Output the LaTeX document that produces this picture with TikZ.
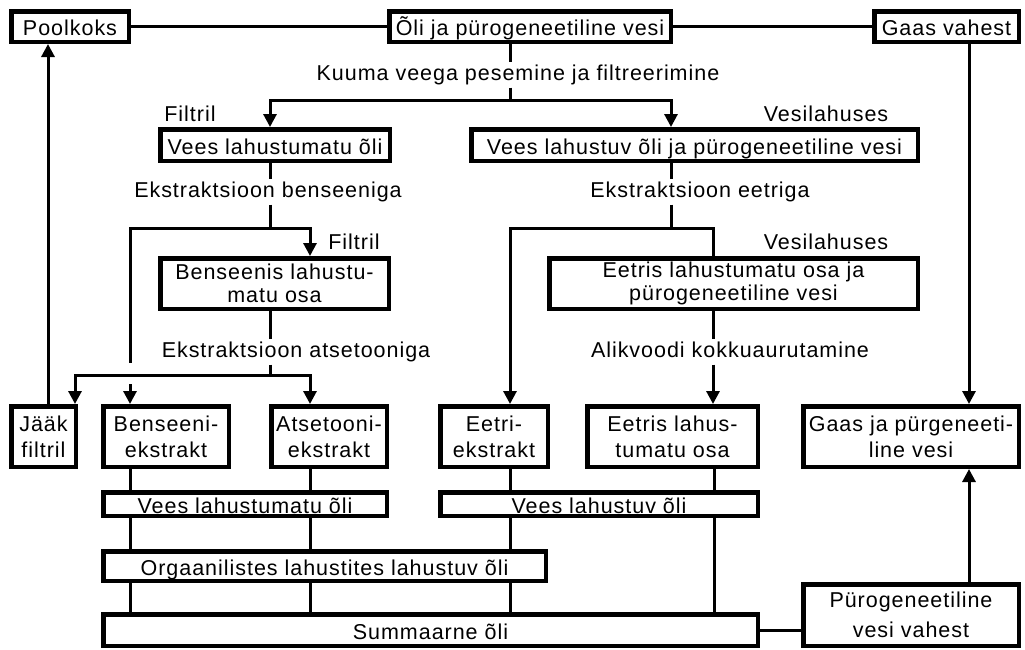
\documentclass[tikz,border=0pt]{standalone}
\usepackage{fontspec}
\setmainfont{Liberation Sans}[LetterSpace=4.5]
\usetikzlibrary{arrows.meta}
\begin{document}
\begin{tikzpicture}[x=1pt,y=-1pt,
  box/.style={draw,line width=4.5pt,line join=miter,inner sep=0pt,align=center,
    font=\fontsize{21.5}{23}\selectfont},
  one/.style={text height=18pt,text depth=0pt},
  two/.style={font=\fontsize{21.5}{26}\selectfont},
  lbl/.style={inner sep=3pt,anchor=base,text height=15pt,text depth=4.5pt,
    font=\fontsize{21.5}{23}\selectfont},
  conn/.style={line width=3pt,line join=miter},
  arr/.style={conn,-{Triangle[width=13pt,length=13pt]}}]
\useasboundingbox (0,0) rectangle (1025,649);
% top row
\node[box,one,minimum width=117.5,minimum height=30.5] (Pool) at (70,26.5) {Poolkoks};
\node[box,one,minimum width=281.5,minimum height=30.5] (Oli) at (530,26.5) {Õli ja pürogeneetiline vesi};
\node[box,one,minimum width=144.5,minimum height=30.5] (Gaas) at (946.5,26.5) {Gaas vahest};
% second row
\node[box,one,minimum width=229.5,minimum height=31.5] (VLO) at (275,145) {Vees lahustumatu õli};
\node[box,one,minimum width=446.5,minimum height=31.5] (VLP) at (694.5,145) {Vees lahustuv õli ja pürogeneetiline vesi};
% third row
\node[box,minimum width=228.5,minimum height=50.5] (BLO) at (274.5,283.5) {Benseenis lahustu-\\matu osa};
\node[box,minimum width=368.5,minimum height=50.5] (EL) at (733.5,283.5) {Eetris lahustumatu osa ja\\pürogeneetiline vesi};
% fourth row
\node[box,two,minimum width=64.5,minimum height=60.5] (Jaak) at (43.5,436.5) {Jääk\\filtril};
\node[box,two,minimum width=125.5,minimum height=60.5] (Ben) at (166,436.5) {Benseeni-\\ekstrakt};
\node[box,two,minimum width=115.5,minimum height=60.5] (Ats) at (329,436.5) {Atsetooni-\\ekstrakt};
\node[box,two,minimum width=107.5,minimum height=60.5] (Eet) at (494,436.5) {Eetri-\\ekstrakt};
\node[box,two,minimum width=170.5,minimum height=60.5] (EL2) at (672.5,436.5) {Eetris lahus-\\tumatu osa};
\node[box,two,minimum width=215.5,minimum height=60.5] (GP) at (911,436.5) {Gaas ja pürgeneeti-\\line vesi};
% lower rows
\node[box,one,minimum width=283.5,minimum height=23.5] (VLO2) at (245,504) {Vees lahustumatu õli};
\node[box,one,minimum width=317.5,minimum height=23.5] (VLP2) at (599,504) {Vees lahustuv õli};
\node[box,one,minimum width=442.5,minimum height=29.5] (Org) at (324.5,566) {Orgaanilistes lahustites lahustuv õli};
\node[box,one,minimum width=654.5,minimum height=31.5] (Summ) at (430.5,630) {Summaarne õli};
\node[box,font=\fontsize{21.5}{30}\selectfont,minimum width=215.5,minimum height=61.5] (Pur) at (911,615) {Pürogeneetiline\\vesi vahest};
% labels
\node[lbl] (Lk) at (518,80) {Kuuma veega pesemine ja filtreerimine};
\node[lbl] (Lf1) at (190,121) {Filtril};
\node[lbl] (Lv1) at (826,121) {Vesilahuses};
\node[lbl] (Lb) at (268,197) {Ekstraktsioon benseeniga};
\node[lbl] (Le) at (700,197) {Ekstraktsioon eetriga};
\node[lbl] (Lf2) at (354,249) {Filtril};
\node[lbl] (Lv2) at (826,249) {Vesilahuses};
\node[lbl] (La) at (296,357) {Ekstraktsioon atsetooniga};
\node[lbl] (Lal) at (730,357) {Alikvoodi kokkuaurutamine};
% top connectors
\draw[conn] (Pool.east) -- (Oli.west);
\draw[conn] (Oli.east) -- (Gaas.west);
% hot water washing
\coordinate (j1) at (510,100);
\coordinate (a1) at (270,100);
\coordinate (a2) at (671,100);
\draw[conn] (j1 |- Oli.south) -- (j1 |- Lk.north);
\draw[conn] (j1 |- Lk.south) -- (j1);
\draw[arr] (a2) -- (a1) -- (a1 |- VLO.north);
\draw[arr] (a1) -- (a2) -- (a2 |- VLP.north);
% benzene extraction
\coordinate (b1) at (270,228);
\coordinate (b130) at (130,228);
\coordinate (b310) at (310,228);
\coordinate (g1) at (130,363);
\coordinate (g2) at (130,384);
\draw[conn] (b1 |- VLO.south) -- (b1 |- Lb.north);
\draw[conn] (b1 |- Lb.south) -- (b1);
\draw[arr] (b130) -- (b310) -- (b310 |- BLO.north);
\draw[conn] (b310) -- (b130) -- (g1);
\draw[arr] (g2) -- (g2 |- Ben.north);
% acetone extraction
\coordinate (c1) at (270,375);
\coordinate (c75) at (75,375);
\coordinate (c310) at (310,375);
\draw[conn] (c1 |- BLO.south) -- (c1 |- La.north);
\draw[conn] (c1 |- La.south) -- (c1);
\draw[arr] (c310) -- (c75) -- (c75 |- Jaak.north);
\draw[arr] (c75) -- (c310) -- (c310 |- Ats.north);
% ether extraction
\coordinate (e1) at (671,228);
\coordinate (e510) at (510,228);
\coordinate (e713) at (713,228);
\draw[conn] (e1 |- VLP.south) -- (e1 |- Le.north);
\draw[conn] (e1 |- Le.south) -- (e1);
\draw[arr] (e713) -- (e510) -- (e510 |- Eet.north);
\draw[conn] (e510) -- (e713) -- (e713 |- EL.north);
\draw[conn] (e713 |- EL.south) -- (e713 |- Lal.north);
\draw[arr] (e713 |- Lal.south) -- (e713 |- EL2.north);
% gas
\coordinate (x969) at (969,0);
\draw[arr] (x969 |- Gaas.south) -- (x969 |- GP.north);
\draw[arr] (x969 |- Pur.north) -- (x969 |- GP.south);
% residue to semicoke
\coordinate (x48) at (48,0);
\draw[arr] (x48 |- Jaak.north) -- (x48 |- Pool.south);
% lower connections
\coordinate (x130) at (130,0);
\coordinate (x310) at (310,0);
\coordinate (x510) at (510,0);
\coordinate (x714) at (714,0);
\draw[conn] (x130 |- Ben.south) -- (x130 |- VLO2.north);
\draw[conn] (x310 |- Ats.south) -- (x310 |- VLO2.north);
\draw[conn] (x130 |- VLO2.south) -- (x130 |- Org.north);
\draw[conn] (x310 |- VLO2.south) -- (x310 |- Org.north);
\draw[conn] (x510 |- Eet.south) -- (x510 |- VLP2.north);
\draw[conn] (x714 |- EL2.south) -- (x714 |- VLP2.north);
\draw[conn] (x510 |- VLP2.south) -- (x510 |- Org.north);
\draw[conn] (x714 |- VLP2.south) -- (x714 |- Summ.north);
\draw[conn] (x130 |- Org.south) -- (x130 |- Summ.north);
\draw[conn] (x310 |- Org.south) -- (x310 |- Summ.north);
\draw[conn] (x510 |- Org.south) -- (x510 |- Summ.north);
\draw[conn] (Summ.east) -- (Summ.east -| Pur.west);
\end{tikzpicture}
\end{document}
